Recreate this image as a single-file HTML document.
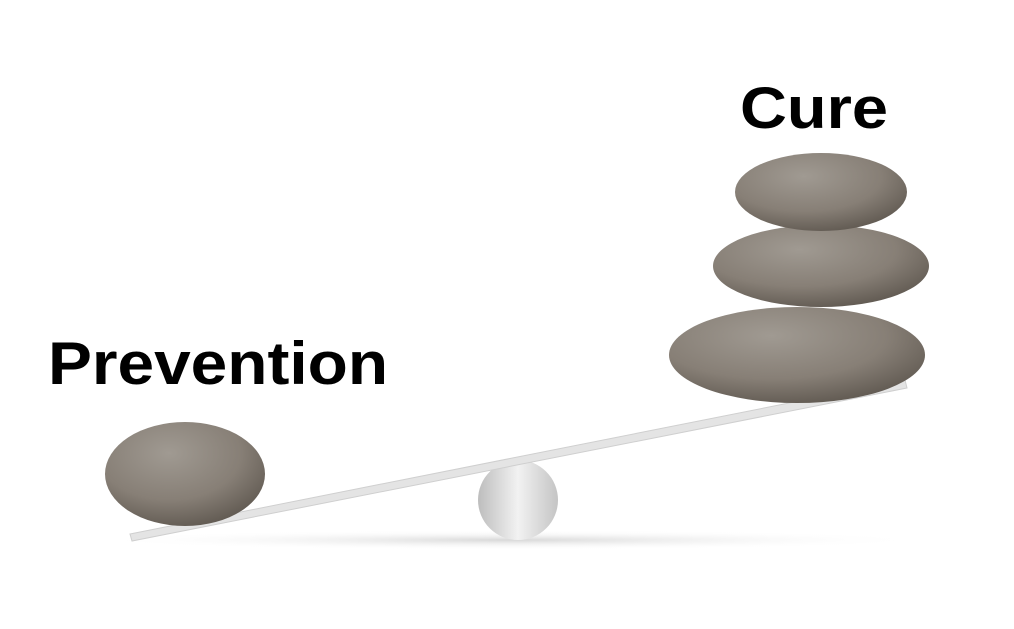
<!DOCTYPE html>
<html><head><meta charset="utf-8"><style>
html,body{margin:0;padding:0;background:#fff;width:1014px;height:629px;overflow:hidden}
</style></head><body>
<svg width="1014" height="629" viewBox="0 0 1014 629" xmlns="http://www.w3.org/2000/svg">
<defs>
<radialGradient id="st" cx="40%" cy="30%" r="75%">
<stop offset="0" stop-color="#a09a92"/><stop offset="0.6" stop-color="#877f76"/><stop offset="1" stop-color="#5f5850"/>
</radialGradient>
<linearGradient id="cyl" x1="0" x2="1" y1="0" y2="0">
<stop offset="0" stop-color="#bdbdbd"/><stop offset="0.5" stop-color="#f2f2f2"/><stop offset="1" stop-color="#c4c4c4"/>
</linearGradient>
<radialGradient id="sh" cx="50%" cy="50%" r="50%">
<stop offset="0" stop-color="#d8d8d8"/><stop offset="1" stop-color="#fff" stop-opacity="0"/>
</radialGradient>
</defs>
<ellipse cx="510" cy="540" rx="420" ry="10" fill="url(#sh)"/>
<ellipse cx="518" cy="500" rx="40" ry="40" fill="url(#cyl)"/>
<polygon points="130,534 905,380 907,388 132,541" fill="#e4e4e4" stroke="#cfcfcf" stroke-width="1"/>
<ellipse cx="185" cy="474" rx="80" ry="52" fill="url(#st)"/>
<ellipse cx="797" cy="355" rx="128" ry="48" fill="url(#st)"/>
<ellipse cx="821" cy="266" rx="108" ry="41" fill="url(#st)"/>
<ellipse cx="821" cy="192" rx="86" ry="39" fill="url(#st)"/>
<text x="740" y="128" font-family="Liberation Sans, sans-serif" font-weight="bold" font-size="58" fill="#000" textLength="148" lengthAdjust="spacingAndGlyphs">Cure</text>
<text x="48" y="384" font-family="Liberation Sans, sans-serif" font-weight="bold" font-size="60" fill="#000" textLength="340" lengthAdjust="spacingAndGlyphs">Prevention</text>
</svg>
</body></html>
